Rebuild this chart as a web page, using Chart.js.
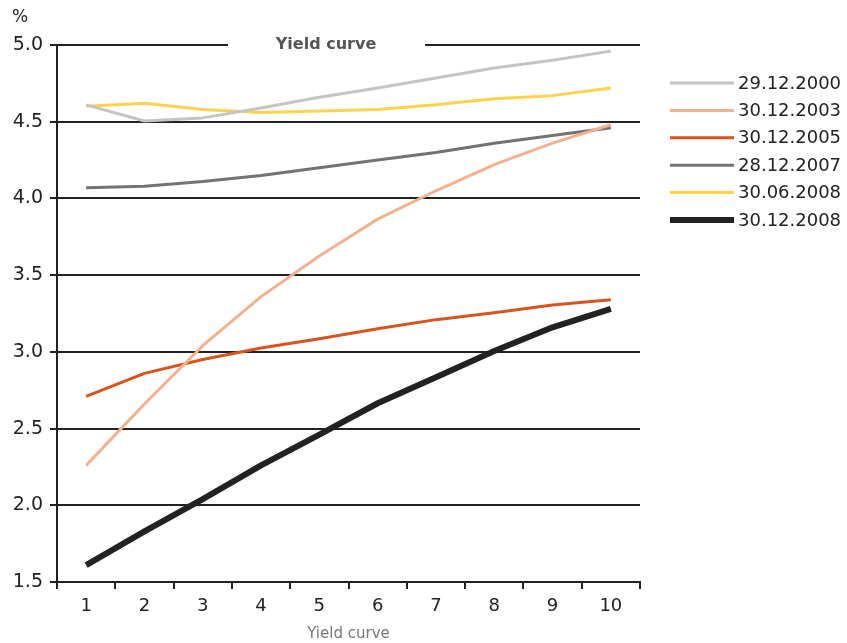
<!DOCTYPE html>
<html>
<head>
<meta charset="utf-8">
<script src="https://cdn.jsdelivr.net/npm/chart.js@4"></script>
<style>
  html, body { margin: 0; padding: 0; background: #fff; }
  #c { display: block; }
</style>
</head>
<body>
<canvas id="c" width="847" height="643"></canvas>
<script>
const maturities = ['1', '2', '3', '4', '5', '6', '7', '8', '9', '10'];
const yAxisTicks = [1.5, 2.0, 2.5, 3.0, 3.5, 4.0, 4.5, 5.0];
const chartTitle = 'Yield curve';
const xAxisTitle = 'Yield curve';
const yUnit = '%';

const s_29_12_2000 = [4.61, 4.505, 4.525, 4.59, 4.66, 4.72, 4.785, 4.85, 4.90, 4.96];
const s_30_12_2003 = [2.26, 2.66, 3.04, 3.36, 3.625, 3.865, 4.05, 4.22, 4.36, 4.48];
const s_30_12_2005 = [2.71, 2.86, 2.95, 3.025, 3.085, 3.15, 3.21, 3.255, 3.305, 3.34];
const s_28_12_2007 = [4.07, 4.08, 4.11, 4.15, 4.20, 4.25, 4.30, 4.36, 4.41, 4.46];
const s_30_06_2008 = [4.60, 4.62, 4.58, 4.56, 4.57, 4.58, 4.61, 4.65, 4.67, 4.72];
const s_30_12_2008 = [1.61, 1.83, 2.04, 2.26, 2.46, 2.665, 2.835, 3.005, 3.16, 3.28];

const FONT = '"DejaVu Sans", Verdana, sans-serif';
const INK = '#222222';

function ds(label, data, color, width) {
  return { label, data, borderColor: color, backgroundColor: color, borderWidth: width,
           pointRadius: 0, pointHoverRadius: 0, tension: 0, fill: false,
           borderCapStyle: 'butt', borderJoinStyle: 'round' };
}

const extras = {
  id: 'extras',
  beforeDatasetsDraw(chart) {
    const ctx = chart.ctx;
    const area = chart.chartArea;
    ctx.save();
    ctx.fillStyle = '#ffffff';
    ctx.fillRect(228, area.top - 6, 197, 12);
    ctx.restore();
  },
  afterDraw(chart) {
    const ctx = chart.ctx;
    const area = chart.chartArea;
    ctx.save();
    ctx.font = 'bold 16px ' + FONT;
    ctx.fillStyle = '#555555';
    ctx.textAlign = 'center';
    ctx.textBaseline = 'middle';
    ctx.fillText(chartTitle, 326, area.top);
    ctx.font = '17px ' + FONT;
    ctx.fillStyle = INK;
    ctx.textAlign = 'left';
    ctx.fillText(yUnit, 12, 18);
    const startY = 83, step = 27.4;
    chart.data.datasets.forEach((d, i) => {
      const y = startY + i * step;
      ctx.strokeStyle = d.borderColor;
      ctx.lineWidth = d.borderWidth;
      ctx.lineCap = 'butt';
      ctx.beginPath();
      ctx.moveTo(670, y);
      ctx.lineTo(734, y);
      ctx.stroke();
      ctx.font = '18px ' + FONT;
      ctx.fillStyle = INK;
      ctx.textAlign = 'left';
      ctx.textBaseline = 'middle';
      ctx.fillText(d.label, 738, y + 1);
    });
    ctx.restore();
  }
};

new Chart(document.getElementById('c'), {
  type: 'line',
  data: {
    labels: maturities,
    datasets: [
      ds('29.12.2000', s_29_12_2000, '#c4c4c4', 3),
      ds('30.12.2003', s_30_12_2003, '#f2b190', 3),
      ds('30.12.2005', s_30_12_2005, '#d9531e', 3),
      ds('28.12.2007', s_28_12_2007, '#737373', 3),
      ds('30.06.2008', s_30_06_2008, '#fdd24f', 3),
      ds('30.12.2008', s_30_12_2008, '#222222', 6)
    ]
  },
  options: {
    responsive: false,
    animation: false,
    events: [],
    layout: { padding: { top: 45, right: 207, left: 0, bottom: 0 } },
    plugins: { legend: { display: false }, tooltip: { enabled: false }, title: { display: false } },
    scales: {
      x: {
        type: 'category',
        offset: true,
        grid: { offset: true, drawOnChartArea: false, drawTicks: true, tickLength: 7, color: INK, lineWidth: 2 },
        border: { display: true, color: INK, width: 2 },
        ticks: { color: INK, font: { family: FONT, size: 18 }, padding: 7, maxRotation: 0 },
        title: { display: true, text: xAxisTitle, color: '#777777', font: { family: FONT, size: 15 }, padding: { top: 2, bottom: 0 } },
        afterFit(scale) { scale.height = 61; }
      },
      y: {
        min: 1.5,
        max: 5.0,
        afterBuildTicks(scale) { scale.ticks = yAxisTicks.map(v => ({ value: v })); },
        grid: { color: INK, lineWidth: 2, drawTicks: true, tickLength: 7 },
        border: { display: true, color: INK, width: 2 },
        ticks: { color: INK, font: { family: FONT, size: 19 }, padding: 7,
                 callback: v => Number(v).toFixed(1) },
        afterFit(scale) { scale.width = 57; }
      }
    }
  },
  plugins: [extras]
});
</script>
</body>
</html>
